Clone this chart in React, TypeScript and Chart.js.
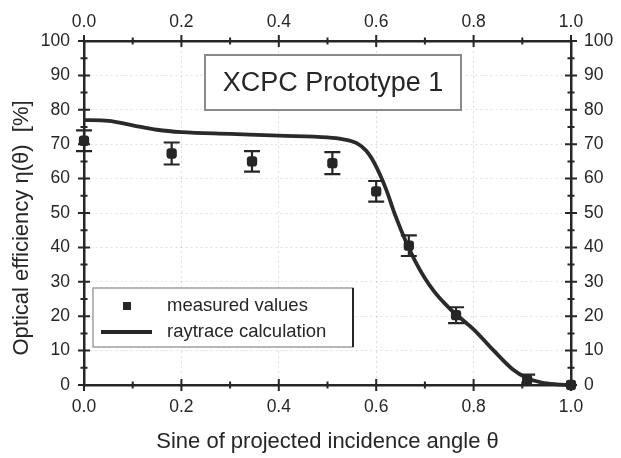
import React, { useEffect, useRef } from "react";
import { Chart, registerables } from "chart.js";

Chart.register(...registerables);

// Measured values
const measuredX = [0.0, 0.18, 0.345, 0.51, 0.6, 0.667, 0.764, 0.91, 1.0];
const measuredY = [71, 67.3, 65, 64.5, 56.3, 40.5, 20.3, 1.5, 0];
const measuredErr = [3, 3.2, 3, 3.2, 3, 3, 2.3, 1.5, 0];

// Raytrace calculation
const raytraceX = [0, 0.05, 0.1, 0.15, 0.2, 0.3, 0.4, 0.5, 0.53, 0.56, 0.58, 0.6, 0.62, 0.64, 0.66, 0.68, 0.7, 0.72, 0.74, 0.76, 0.78, 0.8, 0.84, 0.88, 0.91, 0.94, 0.97, 1.0];
const raytraceY = [77, 76.8, 75.5, 74.2, 73.5, 73, 72.5, 72, 71.5, 70.3, 68, 63.5, 57, 49, 42, 36, 31, 27, 23.8, 21, 18.6, 16.2, 10.2, 4.6, 2, 0.7, 0.2, 0];

const xTicks = [0, 0.2, 0.4, 0.6, 0.8, 1.0];
const yTicks = [0, 10, 20, 30, 40, 50, 60, 70, 80, 90, 100];

const chartTitle = "XCPC Prototype 1";
const xTitle = "Sine of projected incidence angle θ";
const yTitle = "Optical efficiency η(θ)  [%]";
const legendLabels = ["measured values", "raytrace calculation"];

const FONT = "'Liberation Sans', Arial, sans-serif";
const INK = "#262626";

const decorPlugin = {
  id: "decor",
  afterDatasetsDraw(chart: any) {
    const ctx = chart.ctx;
    const xs = chart.scales.x;
    const ys = chart.scales.y;
    ctx.save();
    ctx.strokeStyle = INK;
    ctx.lineWidth = 2.2;
    for (let i = 0; i < measuredX.length; i++) {
      const e = measuredErr[i];
      if (!e) continue;
      const px = xs.getPixelForValue(measuredX[i]);
      const top = ys.getPixelForValue(measuredY[i] + e);
      const bot = ys.getPixelForValue(measuredY[i] - e);
      ctx.beginPath();
      ctx.moveTo(px, top);
      ctx.lineTo(px, bot);
      ctx.moveTo(px - 8, top);
      ctx.lineTo(px + 8, top);
      ctx.moveTo(px - 8, bot);
      ctx.lineTo(px + 8, bot);
      ctx.stroke();
    }
    ctx.restore();
  },
  afterDraw(chart: any) {
    const ctx = chart.ctx;
    const a = chart.chartArea;
    const xs = chart.scales.x;
    const ys = chart.scales.y;
    ctx.save();
    ctx.strokeStyle = INK;
    ctx.lineWidth = 2;
    for (let i = 0; i <= 10; i++) {
      const px = xs.getPixelForValue(i / 10);
      const len = i % 2 === 0 ? 6 : 3.5;
      ctx.beginPath();
      ctx.moveTo(px, a.bottom - len);
      ctx.lineTo(px, a.bottom + len);
      ctx.moveTo(px, a.top - len);
      ctx.lineTo(px, a.top + len);
      ctx.stroke();
    }
    for (let i = 0; i <= 20; i++) {
      const py = ys.getPixelForValue(i * 5);
      const len = i % 2 === 0 ? 6 : 3.5;
      ctx.beginPath();
      ctx.moveTo(a.left - len, py);
      ctx.lineTo(a.left + len, py);
      ctx.moveTo(a.right - len, py);
      ctx.lineTo(a.right + len, py);
      ctx.stroke();
    }

    // Title box
    const bx = 205, by = 55, bw = 256, bh = 55;
    ctx.fillStyle = "#ffffff";
    ctx.fillRect(bx, by, bw, bh);
    ctx.strokeStyle = "#8a8a8a";
    ctx.lineWidth = 2;
    ctx.strokeRect(bx, by, bw, bh);
    ctx.fillStyle = INK;
    ctx.font = `27px ${FONT}`;
    ctx.textAlign = "center";
    ctx.textBaseline = "middle";
    ctx.fillText(chartTitle, bx + bw / 2, by + bh / 2 + 1);

    // Legend box
    const lx = 93, ly = 288, lw = 260, lh = 59;
    ctx.fillStyle = "#ffffff";
    ctx.fillRect(lx, ly, lw, lh);
    ctx.strokeStyle = "#a0a0a0";
    ctx.lineWidth = 1.5;
    ctx.strokeRect(lx, ly, lw, lh);
    ctx.strokeStyle = INK;
    ctx.lineWidth = 2;
    ctx.beginPath();
    ctx.moveTo(lx + lw, ly);
    ctx.lineTo(lx + lw, ly + lh);
    ctx.stroke();
    ctx.fillStyle = INK;
    ctx.fillRect(123, 302, 8, 8);
    ctx.lineWidth = 4;
    ctx.beginPath();
    ctx.moveTo(101, 332);
    ctx.lineTo(152, 332);
    ctx.stroke();
    ctx.font = `18.5px ${FONT}`;
    ctx.textAlign = "left";
    ctx.textBaseline = "middle";
    ctx.fillText(legendLabels[0], 167, 306);
    ctx.fillText(legendLabels[1], 167, 332);

    // Axis titles
    ctx.font = `22px ${FONT}`;
    ctx.textAlign = "center";
    ctx.fillText(xTitle, (a.left + a.right) / 2, 442);
    ctx.font = `22px ${FONT}`;
    ctx.translate(22, 228);
    ctx.rotate(-Math.PI / 2);
    ctx.fillText(yTitle, 0, 0);
    ctx.restore();
  },
};

export default function App() {
  const ref = useRef<HTMLCanvasElement>(null);
  useEffect(() => {
    if (!ref.current) return;
    const tickFont = { family: FONT, size: 17.5 };
    const gridCfg = {
      color: "rgba(0,0,0,0.13)",
      lineWidth: 1,
      drawTicks: false,
    };
    const chart = new Chart(ref.current, {
      type: "scatter",
      data: {
        datasets: [
          {
            label: legendLabels[0],
            data: measuredX.map((x, i) => ({ x, y: measuredY[i] })),
            pointStyle: "rectRounded",
            pointRadius: 6,
            backgroundColor: INK,
            borderColor: INK,
            borderWidth: 0,
            showLine: false,
            clip: false,
          },
          {
            label: legendLabels[1],
            data: raytraceX.map((x, i) => ({ x, y: raytraceY[i] })),
            showLine: true,
            pointRadius: 0,
            borderColor: "#2a2a2a",
            borderWidth: 3.8,
            cubicInterpolationMode: "monotone",
            clip: false,
          },
        ],
      },
      options: {
        responsive: false,
        animation: false,
        layout: { padding: 0 },
        plugins: {
          legend: { display: false },
          tooltip: { enabled: false },
          title: { display: false },
        },
        scales: {
          x: {
            type: "linear",
            position: "bottom",
            min: 0,
            max: 1,
            afterBuildTicks: (s: any) => { s.ticks = xTicks.map((v) => ({ value: v })); },
            afterFit: (s: any) => { s.height = 73; },
            ticks: { font: tickFont, color: INK, padding: 12, callback: (v: any) => Number(v).toFixed(1), maxRotation: 0 },
            grid: { ...gridCfg } as any,
            border: { color: INK, width: 2.5, dash: [2, 3] as any },
          },
          x2: {
            type: "linear",
            position: "top",
            min: 0,
            max: 1,
            afterBuildTicks: (s: any) => { s.ticks = xTicks.map((v) => ({ value: v })); },
            afterFit: (s: any) => { s.height = 41; },
            ticks: { font: tickFont, color: INK, padding: 8, callback: (v: any) => Number(v).toFixed(1), maxRotation: 0 },
            grid: { display: false, drawTicks: false },
            border: { color: INK, width: 2.5 },
          },
          y: {
            type: "linear",
            position: "left",
            min: 0,
            max: 100,
            afterBuildTicks: (s: any) => { s.ticks = yTicks.map((v) => ({ value: v })); },
            afterFit: (s: any) => { s.width = 84; },
            ticks: { font: tickFont, color: INK, padding: 14 },
            grid: { ...gridCfg } as any,
            border: { color: INK, width: 2.5, dash: [2, 3] as any },
          },
          y2: {
            type: "linear",
            position: "right",
            min: 0,
            max: 100,
            afterBuildTicks: (s: any) => { s.ticks = yTicks.map((v) => ({ value: v })); },
            afterFit: (s: any) => { s.width = 50; },
            ticks: { font: tickFont, color: INK, padding: 13 },
            grid: { display: false, drawTicks: false },
            border: { color: INK, width: 2.5 },
          },
        },
      } as any,
      plugins: [decorPlugin],
    });
    return () => chart.destroy();
  }, []);
  return (
    <div style={{ position: "fixed", left: 0, top: 0, width: 621, height: 458, background: "#fff" }}>
      <canvas ref={ref} width={621} height={458} style={{ width: 621, height: 458, display: "block" }} />
    </div>
  );
}
